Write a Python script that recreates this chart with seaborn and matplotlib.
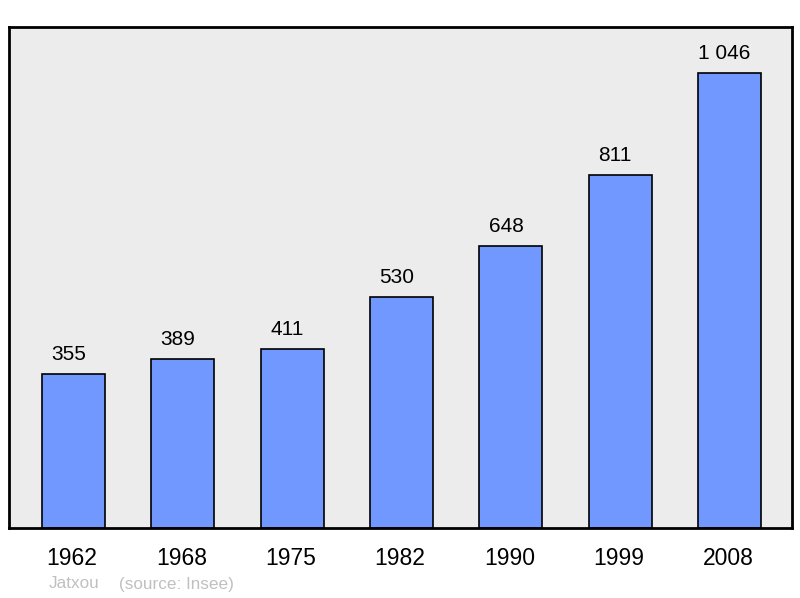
import matplotlib
matplotlib.use("Agg")
import matplotlib.pyplot as plt
import matplotlib.transforms as mtransforms
import seaborn as sns
import pandas as pd

annees = ["1962", "1968", "1975", "1982", "1990", "1999", "2008"]
population = [355, 389, 411, 530, 648, 811, 1046]
etiquettes = ["355", "389", "411", "530", "648", "811", "1 046"]

sns.set_style("white")
plt.rcParams['font.family'] = ['Liberation Sans', 'DejaVu Sans']

dados = pd.DataFrame({"annee": annees, "pop": population})

fig = plt.figure(figsize=(8, 5.98), dpi=100)
ax = fig.add_axes([0.01125, 0.1171, 0.97875, 0.8378])
ax.set_facecolor("#ececec")

sns.barplot(ax=ax, x="annee", y="pop", data=dados, color="#7098ff", saturation=1,
            width=0.576, edgecolor="black", linewidth=1.2)

# petit decalage vers la gauche comme sur l'original
decal = mtransforms.offset_copy(ax.transData, fig=fig, x=-5, y=14, units="dots")
for i, (v, t) in enumerate(zip(population, etiquettes)):
    ax.text(i, v, t, ha="center", va="baseline", fontsize=15, color="black",
            transform=decal)

ax.set_xlim(-0.59, 6.57)
ax.set_ylim(0, 1152)
ax.set_yticks([])
ax.set_xlabel("")
ax.set_ylabel("")
ax.tick_params(axis="x", length=0, labelsize=16.5, pad=13.5, labelcolor="black")
for lab in ax.get_xticklabels():
    lab.set_transform(lab.get_transform() + mtransforms.Affine2D().translate(-1.5, 0))
for s in ax.spines.values():
    s.set_linewidth(2)
    s.set_color("black")

fig.text(49 / 800, 1 - 584 / 598, "Jatxou", fontsize=12.3, color="#c0c0c0", va="center")
fig.text(119 / 800, 1 - 584 / 598, "(source: Insee)", fontsize=12.3, color="#c0c0c0", va="center")

fig.savefig("out.png", dpi=100)
